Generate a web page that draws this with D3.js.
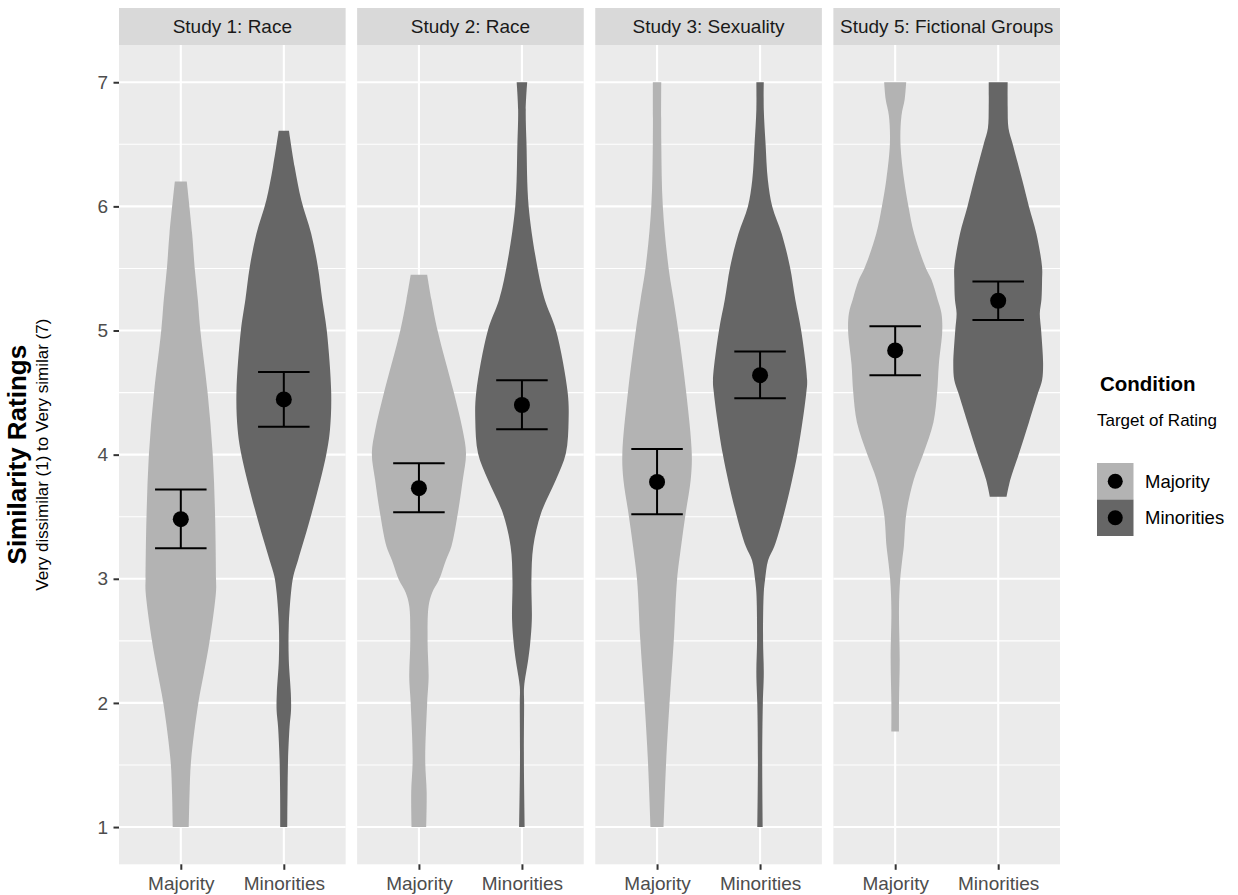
<!DOCTYPE html>
<html>
<head>
<meta charset="utf-8">
<script src="https://cdn.jsdelivr.net/npm/d3@7"></script>
<style>
  body { margin: 0; background: #ffffff; }
  svg { display: block; }
  text { font-family: "Liberation Sans", Arial, Helvetica, sans-serif; }
</style>
</head>
<body>
<svg id="chart" width="1238" height="895"></svg>
<script>
// ---- data ----------------------------------------------------------------
const studies = ["Study 1: Race", "Study 2: Race", "Study 3: Sexuality", "Study 5: Fictional Groups"];
const conditions = ["Majority", "Minorities"];
const yTicks = [1, 2, 3, 4, 5, 6, 7];
const yMinor = [1.5, 2.5, 3.5, 4.5, 5.5, 6.5];

// condition means with lower / upper interval bounds, one entry per study
const meanMajority     = [3.48, 3.73, 3.78, 4.84];
const lowerMajority    = [3.245, 3.535, 3.52, 4.64];
const upperMajority    = [3.72, 3.93, 4.045, 5.035];
const meanMinorities   = [4.445, 4.40, 4.64, 5.24];
const lowerMinorities  = [4.225, 4.205, 4.455, 5.085];
const upperMinorities  = [4.665, 4.60, 4.83, 5.395];

// violin outlines: [rating, half width in category units]
const s1Majority = [[1.0,0.078],[1.27,0.085],[1.54,0.10],[2.0,0.17],[2.25,0.226],[2.5,0.28],[2.9,0.342],[3.0,0.342],[3.5,0.333],[4.0,0.31],[4.5,0.26],[5.0,0.19],[5.25,0.165],[5.51,0.134],[5.78,0.11],[6.2,0.058]];
const s1Minorities = [[1.0,0.034],[1.27,0.036],[1.54,0.041],[1.81,0.056],[1.94,0.07],[2.08,0.068],[2.35,0.048],[2.62,0.048],[2.89,0.07],[3.02,0.092],[3.15,0.138],[3.53,0.271],[4.0,0.412],[4.2,0.448],[4.5,0.46],[5.0,0.417],[5.25,0.373],[5.51,0.331],[5.78,0.266],[6.05,0.17],[6.32,0.105],[6.61,0.05]];
const s2Majority = [[1.0,0.071],[1.28,0.075],[1.54,0.061],[2.0,0.08],[2.21,0.094],[2.49,0.084],[2.78,0.094],[2.89,0.129],[2.99,0.194],[3.15,0.262],[3.26,0.315],[3.53,0.378],[3.8,0.426],[4.01,0.457],[4.2,0.424],[4.5,0.339],[5.0,0.181],[5.25,0.121],[5.45,0.08]];
const s2Minorities = [[1.0,0.027],[1.54,0.019],[2.0,0.021],[2.13,0.021],[2.35,0.061],[2.48,0.08],[2.67,0.096],[2.99,0.092],[3.26,0.11],[3.53,0.186],[3.8,0.331],[4.01,0.426],[4.28,0.453],[4.5,0.444],[5.0,0.331],[5.25,0.221],[5.51,0.15],[6.0,0.065],[6.51,0.044],[6.78,0.037],[7.0,0.051]];
const s3Majority = [[1.0,0.063],[1.54,0.089],[2.0,0.121],[2.51,0.163],[2.99,0.194],[3.26,0.233],[3.53,0.278],[3.8,0.327],[4.01,0.337],[4.5,0.283],[5.0,0.206],[5.25,0.16],[5.51,0.111],[6.0,0.056],[6.51,0.041],[7.0,0.041]];
const s3Minorities = [[1.0,0.026],[1.54,0.021],[2.0,0.027],[2.24,0.036],[2.51,0.029],[2.89,0.036],[2.99,0.048],[3.15,0.078],[3.26,0.138],[3.53,0.234],[4.01,0.363],[4.5,0.449],[4.6,0.457],[5.0,0.399],[5.25,0.342],[5.51,0.291],[5.78,0.21],[6.0,0.118],[6.21,0.076],[6.51,0.053],[6.78,0.036],[7.0,0.036]];
const s4Majority = [[1.77,0.037],[2.0,0.037],[2.35,0.044],[2.75,0.037],[2.99,0.048],[3.15,0.068],[3.26,0.084],[3.53,0.109],[3.8,0.181],[4.01,0.274],[4.26,0.371],[4.5,0.407],[4.73,0.424],[5.0,0.457],[5.14,0.449],[5.25,0.412],[5.41,0.352],[5.51,0.294],[5.78,0.184],[6.0,0.129],[6.21,0.087],[6.51,0.051],[6.73,0.061],[6.86,0.092],[7.0,0.107]];
const s4Minorities = [[3.66,0.081],[3.8,0.118],[4.01,0.202],[4.26,0.298],[4.5,0.388],[4.6,0.426],[4.73,0.436],[5.0,0.417],[5.14,0.404],[5.25,0.42],[5.41,0.426],[5.51,0.426],[5.78,0.371],[6.0,0.298],[6.21,0.234],[6.51,0.138],[6.63,0.1],[6.8,0.092],[7.0,0.092]];

const violinsByStudy = [
  [s1Majority, s1Minorities],
  [s2Majority, s2Minorities],
  [s3Majority, s3Minorities],
  [s4Majority, s4Minorities]
];
const meansByCondition = [meanMajority, meanMinorities];
const lowerByCondition = [lowerMajority, lowerMinorities];
const upperByCondition = [upperMajority, upperMinorities];

// ---- layout --------------------------------------------------------------
const svg = d3.select("#chart");
const fills = ["#b3b3b3", "#666666"];
const plotLeft = 119, plotRight = 1060, panelGap = 11.5;
const panelTop = 45, panelBottom = 864.3;
const stripTop = 8;
const panelW = (plotRight - plotLeft - panelGap * (studies.length - 1)) / studies.length;

const y = d3.scaleLinear().domain([0.7, 7.3]).range([panelBottom, panelTop]);
const x = d3.scalePoint().domain(conditions).range([0, panelW]).padding(0.6);
const facetX = d3.scaleBand().domain(studies)
  .range([plotLeft, plotRight + panelGap]).paddingInner(0).paddingOuter(0);

const area = d3.area()
  .y(d => y(d[0]))
  .curve(d3.curveCatmullRom.alpha(0.5));

studies.forEach((study, si) => {
  const g = svg.append("g").attr("transform", `translate(${facetX(study)},0)`);

  // strip
  g.append("rect").attr("x", 0).attr("y", stripTop).attr("width", panelW)
    .attr("height", panelTop - stripTop).attr("fill", "#d9d9d9");
  g.append("text").attr("x", panelW / 2).attr("y", 33.3)
    .attr("text-anchor", "middle").attr("font-size", 19).attr("fill", "#1a1a1a")
    .text(study);

  // panel background and grid
  g.append("rect").attr("x", 0).attr("y", panelTop).attr("width", panelW)
    .attr("height", panelBottom - panelTop).attr("fill", "#ebebeb");
  g.selectAll(".ymin").data(yMinor).join("line")
    .attr("x1", 0).attr("x2", panelW).attr("y1", d => y(d)).attr("y2", d => y(d))
    .attr("stroke", "#ffffff").attr("stroke-width", 1.1);
  g.selectAll(".ymaj").data(yTicks).join("line")
    .attr("x1", 0).attr("x2", panelW).attr("y1", d => y(d)).attr("y2", d => y(d))
    .attr("stroke", "#ffffff").attr("stroke-width", 2.1);
  g.selectAll(".xmaj").data(conditions).join("line")
    .attr("x1", d => x(d)).attr("x2", d => x(d)).attr("y1", panelTop).attr("y2", panelBottom)
    .attr("stroke", "#ffffff").attr("stroke-width", 2.1);

  // violins
  conditions.forEach((cond, ci) => {
    const cx = x(cond), step = x.step();
    const prof = violinsByStudy[si][ci];
    g.append("path").datum(prof)
      .attr("d", area.x0(d => cx - d[1] * step).x1(d => cx + d[1] * step))
      .attr("fill", fills[ci]);
  });

  // interval bars and means
  conditions.forEach((cond, ci) => {
    const cx = x(cond), half = 0.25 * x.step();
    const lo = lowerByCondition[ci][si], hi = upperByCondition[ci][si], m = meansByCondition[ci][si];
    const eb = g.append("g").attr("stroke", "#000000").attr("stroke-width", 2);
    eb.append("line").attr("x1", cx).attr("x2", cx).attr("y1", y(lo)).attr("y2", y(hi));
    eb.append("line").attr("x1", cx - half).attr("x2", cx + half).attr("y1", y(lo)).attr("y2", y(lo));
    eb.append("line").attr("x1", cx - half).attr("x2", cx + half).attr("y1", y(hi)).attr("y2", y(hi));
    g.append("circle").attr("cx", cx).attr("cy", y(m)).attr("r", 8).attr("fill", "#000000");
  });

  // x axis
  const xa = g.append("g").attr("transform", `translate(0,${panelBottom})`)
    .call(d3.axisBottom(x).tickSize(5.5).tickPadding(6.7));
  xa.select(".domain").remove();
  xa.selectAll("line").attr("stroke", "#333333").attr("stroke-width", 2);
  xa.selectAll("text").attr("font-size", 19).attr("fill", "#4d4d4d")
    .attr("font-family", "'Liberation Sans', Arial, sans-serif");
});

// y axis
const ya = svg.append("g").attr("transform", `translate(${plotLeft},0)`)
  .call(d3.axisLeft(y).tickValues(yTicks).tickFormat(d3.format("d")).tickSize(5.5).tickPadding(5.5));
ya.select(".domain").remove();
ya.selectAll("line").attr("stroke", "#333333").attr("stroke-width", 2);
ya.selectAll("text").attr("font-size", 19).attr("fill", "#4d4d4d")
  .attr("font-family", "'Liberation Sans', Arial, sans-serif");

// y titles
const midY = (panelTop + panelBottom) / 2;
svg.append("text").attr("transform", `translate(26,${midY}) rotate(-90)`)
  .attr("text-anchor", "middle").attr("font-size", 26).attr("font-weight", "bold")
  .attr("fill", "#000000").text("Similarity Ratings");
svg.append("text").attr("transform", `translate(48,${midY}) rotate(-90)`)
  .attr("text-anchor", "middle").attr("font-size", 17).attr("fill", "#000000")
  .text("Very dissimilar (1) to Very similar (7)");

// legend
const lg = svg.append("g").attr("transform", "translate(1097,0)");
lg.append("text").attr("x", 3).attr("y", 391).attr("font-size", 20.5).attr("font-weight", "bold")
  .attr("fill", "#000000").text("Condition");
lg.append("text").attr("x", 0).attr("y", 426).attr("font-size", 17)
  .attr("fill", "#000000").text("Target of Rating");
const keySize = 36.5;
conditions.forEach((cond, ci) => {
  const ky = 463 + ci * keySize;
  lg.append("rect").attr("x", 0).attr("y", ky).attr("width", keySize).attr("height", keySize)
    .attr("fill", fills[ci]);
  lg.append("circle").attr("cx", keySize / 2).attr("cy", ky + keySize / 2).attr("r", 7.5)
    .attr("fill", "#000000");
  lg.append("text").attr("x", keySize + 11.5).attr("y", ky + keySize / 2).attr("dy", "0.35em")
    .attr("font-size", 18.5).attr("fill", "#000000").text(cond);
});
</script>
</body>
</html>
